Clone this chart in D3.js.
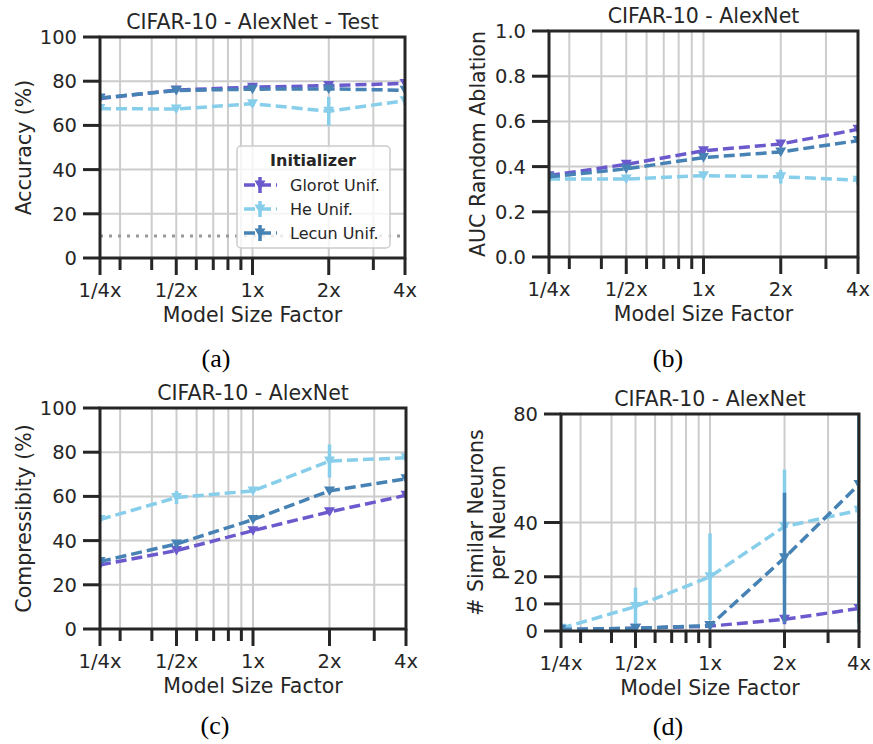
<!DOCTYPE html>
<html>
<head>
<meta charset="utf-8">
<script src="https://cdn.jsdelivr.net/npm/d3@7"></script>
<style>
  body { margin: 0; background: #fff; }
  svg text { font-family: "DejaVu Sans", sans-serif; fill: #262626; }
</style>
</head>
<body>
<svg id="chart" width="873" height="744"></svg>
<script>
// model sizes (log x axis)
var sizes = [0.25, 0.5, 1, 2, 4];
var sizeLabels = ['1/4x', '1/2x', '1x', '2x', '4x'];
var minorSizes = [0.3, 0.4, 0.6, 0.7, 0.8, 0.9, 3];

var initializers = ['Glorot Unif.', 'He Unif.', 'Lecun Unif.'];
var colors = ['#6a5acd', '#87ceeb', '#4682b4'];

// (a) test accuracy
var accGlorot = [72.2, 76.0, 77.3, 78.0, 79.0];
var accHe = [67.6, 67.4, 69.8, 66.4, 71.2];
var accLecun = [72.4, 75.8, 76.4, 76.5, 75.9];
var accGlorotErr = [0.6, 0.6, 0.6, 0.8, 0.6];
var accHeErr = [1.0, 1.0, 1.5, 6.5, 2.0];
var accLecunErr = [0.6, 0.6, 0.6, 0.8, 0.6];
var chanceLevel = 10;

// (b) AUC random ablation
var aucGlorot = [0.36, 0.41, 0.47, 0.50, 0.565];
var aucHe = [0.345, 0.345, 0.36, 0.355, 0.34];
var aucLecun = [0.355, 0.39, 0.44, 0.465, 0.515];
var aucGlorotErr = [0.005, 0.01, 0.01, 0.01, 0.01];
var aucHeErr = [0.01, 0.01, 0.01, 0.03, 0.02];
var aucLecunErr = [0.005, 0.01, 0.01, 0.01, 0.01];

// (c) compressibility
var compGlorot = [29, 35.5, 44.5, 53, 60.5];
var compHe = [49.5, 59.5, 62.5, 76, 77.5];
var compLecun = [30.5, 38.5, 49.5, 62.5, 68];
var compGlorotErr = [0.8, 0.8, 0.8, 0.8, 0.8];
var compHeErr = [0.8, 3, 0.8, 7.5, 1.5];
var compLecunErr = [0.8, 0.8, 0.8, 0.8, 0.8];

// (d) similar neurons per neuron
var simGlorot = [0.5, 1, 1.8, 4.3, 8.3];
var simHe = [1, 9, 20, 38.5, 44.5];
var simLecun = [0.6, 1, 2, 27, 54];
var simGlorotErr = [0.2, 0.3, 0.5, 1.8, 1];
var simHeErr = [0.5, 7, 16, 21, 45];
var simLecunErr = [0.3, 0.5, 1, 24, 51];

var svg = d3.select('#chart');
var clipId = 0;

function panel(cfg) {
    var x = d3.scaleLog().base(2).domain([0.25, 4]).range([cfg.x0, cfg.x1]);
    var y = d3.scaleLinear().domain(cfg.yDomain).range([cfg.y1, cfg.y0]);
    var g = svg.append('g');

    // grid
    var grid = g.append('g').attr('stroke', '#cccccc').attr('stroke-width', 2);
    grid.selectAll('line.v').data(sizes.concat(minorSizes)).enter().append('line')
        .attr('x1', function (d) { return x(d) }).attr('x2', function (d) { return x(d) })
        .attr('y1', cfg.y0).attr('y2', cfg.y1);
    grid.selectAll('line.h').data(cfg.yTicks).enter().append('line')
        .attr('y1', function (d) { return y(d) }).attr('y2', function (d) { return y(d) })
        .attr('x1', cfg.x0).attr('x2', cfg.x1);

    clipId++;
    g.append('clipPath').attr('id', 'clip' + clipId).append('rect')
        .attr('x', cfg.x0).attr('y', cfg.y0)
        .attr('width', cfg.x1 - cfg.x0).attr('height', cfg.y1 - cfg.y0);
    var plot = g.append('g').attr('clip-path', 'url(#clip' + clipId + ')');

    if (cfg.chance != null) {
        plot.append('line').attr('x1', cfg.x0).attr('x2', cfg.x1)
            .attr('y1', y(cfg.chance)).attr('y2', y(cfg.chance))
            .attr('stroke', '#999').attr('stroke-width', 3).attr('stroke-dasharray', '3,6');
    }

    var line = d3.line().x(function (d) { return x(d[0]) }).y(function (d) { return y(d[1]) });
    var tri = 'M-5.5,-4.5 L5.5,-4.5 L0,5 Z';

    cfg.series.forEach(function (vals, si) {
        var pts = sizes.map(function (s, i) { return [s, vals[i], cfg.errs[si][i]] });
        plot.append('path').datum(pts).attr('d', line)
            .attr('fill', 'none').attr('stroke', colors[si])
            .attr('stroke-width', 3.5).attr('stroke-dasharray', '11,5');
        plot.selectAll('path.m' + si).data(pts).enter().append('path')
            .attr('d', tri).attr('fill', colors[si])
            .attr('transform', function (d) { return 'translate(' + x(d[0]) + ',' + y(d[1]) + ')' });
        plot.selectAll('line.e' + si).data(pts).enter().append('line')
            .attr('x1', function (d) { return x(d[0]) }).attr('x2', function (d) { return x(d[0]) })
            .attr('y1', function (d) { return y(d[1] - d[2]) })
            .attr('y2', function (d) { return y(d[1] + d[2]) })
            .attr('stroke', colors[si]).attr('stroke-width', 3.5);
    });

    // frame
    g.append('rect').attr('x', cfg.x0).attr('y', cfg.y0)
        .attr('width', cfg.x1 - cfg.x0).attr('height', cfg.y1 - cfg.y0)
        .attr('fill', 'none').attr('stroke', '#262626').attr('stroke-width', 3);

    // ticks
    var ticks = g.append('g').attr('stroke', '#262626').attr('stroke-width', 3);
    ticks.selectAll('line.xm').data(sizes).enter().append('line')
        .attr('x1', function (d) { return x(d) }).attr('x2', function (d) { return x(d) })
        .attr('y1', cfg.y1).attr('y2', cfg.y1 + 17);
    ticks.selectAll('line.xn').data(minorSizes).enter().append('line')
        .attr('x1', function (d) { return x(d) }).attr('x2', function (d) { return x(d) })
        .attr('y1', cfg.y1).attr('y2', cfg.y1 + 12);
    ticks.selectAll('line.y').data(cfg.yTicks).enter().append('line')
        .attr('y1', function (d) { return y(d) }).attr('y2', function (d) { return y(d) })
        .attr('x1', cfg.x0 - 17).attr('x2', cfg.x0);

    g.selectAll('text.xt').data(sizes).enter().append('text')
        .attr('x', function (d) { return x(d) }).attr('y', cfg.y1 + 39)
        .attr('text-anchor', 'middle').style('font-size', '19.5px')
        .text(function (d, i) { return sizeLabels[i] });
    g.selectAll('text.yt').data(cfg.yTicks).enter().append('text')
        .attr('x', cfg.x0 - 23).attr('y', function (d) { return y(d) })
        .attr('dy', '0.36em').attr('text-anchor', 'end').style('font-size', '19.5px')
        .text(cfg.yFormat);

    g.append('text').attr('x', (cfg.x0 + cfg.x1) / 2).attr('y', cfg.y1 + 64)
        .attr('text-anchor', 'middle').style('font-size', '20.5px').text('Model Size Factor');
    g.append('text').attr('x', (cfg.x0 + cfg.x1) / 2).attr('y', cfg.y0 - 8)
        .attr('text-anchor', 'middle').style('font-size', '20.5px').text(cfg.title);

    var ylab = g.append('text').attr('transform', 'translate(' + cfg.yLabelX + ',' + (cfg.y0 + cfg.y1) / 2 + ') rotate(-90)')
        .attr('text-anchor', 'middle').style('font-size', '20.5px');
    cfg.yLabel.forEach(function (t, i) {
        ylab.append('tspan').attr('x', 0).attr('y', i * 22 - (cfg.yLabel.length - 1) * 22).text(t);
    });

    svg.append('text').attr('x', cfg.capX).attr('y', cfg.capY).attr('text-anchor', 'middle')
        .style('font-family', '"Liberation Serif", serif').style('font-size', '26px').style('fill', '#000')
        .text(cfg.caption);

    return {x: x, y: y, g: g};
}

var pa = panel({
    x0: 100, x1: 405, y0: 37, y1: 258,
    yDomain: [0, 100], yTicks: [0, 20, 40, 60, 80, 100], yFormat: function (d) { return d },
    series: [accGlorot, accHe, accLecun], errs: [accGlorotErr, accHeErr, accLecunErr],
    chance: chanceLevel,
    title: 'CIFAR-10 - AlexNet - Test', yLabel: ['Accuracy (%)'], yLabelX: 31,
    caption: '(a)', capX: 216, capY: 367
});

panel({
    x0: 549, x1: 858, y0: 31, y1: 257,
    yDomain: [0, 1], yTicks: [0, 0.2, 0.4, 0.6, 0.8, 1.0], yFormat: d3.format('.1f'),
    series: [aucGlorot, aucHe, aucLecun], errs: [aucGlorotErr, aucHeErr, aucLecunErr],
    title: 'CIFAR-10 - AlexNet', yLabel: ['AUC Random Ablation'], yLabelX: 485,
    caption: '(b)', capX: 668, capY: 367
});

panel({
    x0: 100, x1: 406, y0: 408, y1: 629,
    yDomain: [0, 100], yTicks: [0, 20, 40, 60, 80, 100], yFormat: function (d) { return d },
    series: [compGlorot, compHe, compLecun], errs: [compGlorotErr, compHeErr, compLecunErr],
    title: 'CIFAR-10 - AlexNet', yLabel: ['Compressibity (%)'], yLabelX: 31,
    caption: '(c)', capX: 215, capY: 734
});

panel({
    x0: 561, x1: 859, y0: 414, y1: 631,
    yDomain: [0, 80], yTicks: [0, 10, 20, 40, 80], yFormat: function (d) { return d },
    series: [simGlorot, simHe, simLecun], errs: [simGlorotErr, simHeErr, simLecunErr],
    title: 'CIFAR-10 - AlexNet', yLabel: ['# Similar Neurons', 'per Neuron'], yLabelX: 505,
    caption: '(d)', capX: 668, capY: 735
});

// legend in panel (a)
var leg = pa.g.append('g');
leg.append('rect').attr('x', 237).attr('y', 146).attr('width', 153).attr('height', 102)
    .attr('rx', 4).attr('fill', '#fff').attr('fill-opacity', 0.8)
    .attr('stroke', '#cccccc').attr('stroke-width', 1.5);
leg.append('text').attr('x', 313).attr('y', 166).attr('text-anchor', 'middle')
    .style('font-size', '16px').style('font-weight', 'bold').text('Initializer');
initializers.forEach(function (name, i) {
    var ly = 185 + i * 24;
    leg.append('line').attr('x1', 244).attr('x2', 277).attr('y1', ly).attr('y2', ly)
        .attr('stroke', colors[i]).attr('stroke-width', 3.5).attr('stroke-dasharray', '11,5');
    leg.append('line').attr('x1', 260).attr('x2', 260).attr('y1', ly - 8).attr('y2', ly + 8)
        .attr('stroke', colors[i]).attr('stroke-width', 3.5);
    leg.append('path').attr('d', 'M-5.5,-4.5 L5.5,-4.5 L0,5 Z').attr('fill', colors[i])
        .attr('transform', 'translate(260,' + ly + ')');
    leg.append('text').attr('x', 290).attr('y', ly).attr('dy', '0.36em')
        .style('font-size', '16px').text(name);
});
</script>
</body>
</html>
